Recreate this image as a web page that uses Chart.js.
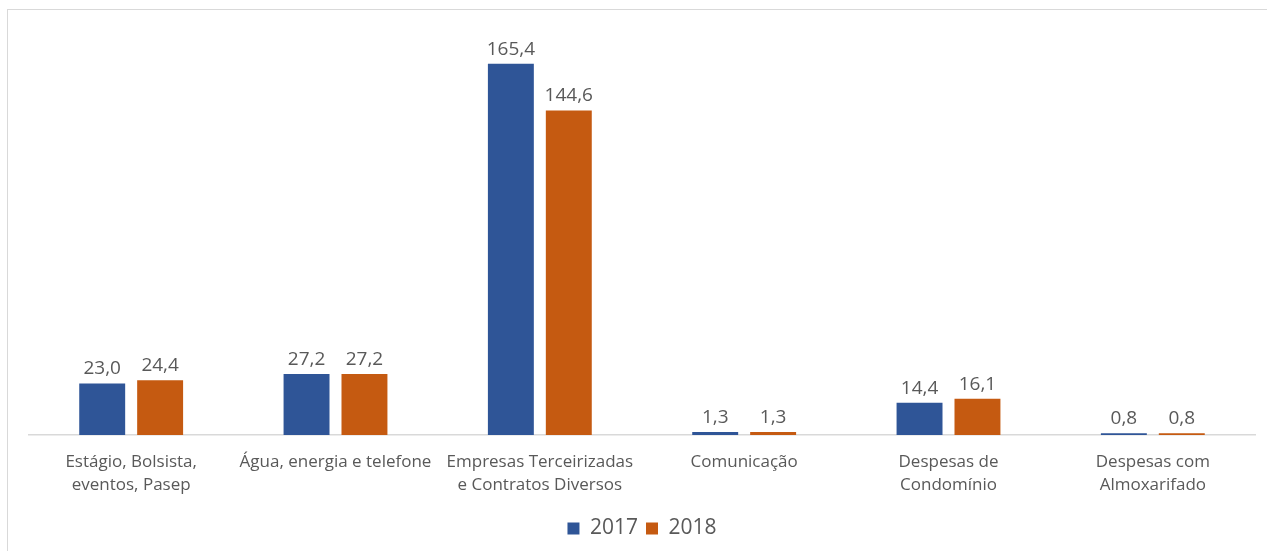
<!DOCTYPE html>
<html>
<head>
<meta charset="utf-8">
<script src="https://cdn.jsdelivr.net/npm/chart.js@4"></script>
<style>
  html, body { margin: 0; padding: 0; background: #fff; }
  #wrap { position: relative; width: 1267px; height: 551px; }
  #frame { position: absolute; left: 7px; top: 9px; width: 1300px; height: 600px;
           border-left: 1px solid #d9d9d9; border-top: 1px solid #d9d9d9; }
  canvas { position: absolute; left: 0; top: 0; }
</style>
</head>
<body>
<div id="wrap">
  <div id="frame"></div>
  <canvas id="c" width="1267" height="551"></canvas>
</div>
<script>
/* ---- Data ---- */
const categories = [
  ["Estágio, Bolsista,", "eventos, Pasep"],
  "Água, energia e telefone",
  ["Empresas Terceirizadas", "e Contratos Diversos"],
  "Comunicação",
  ["Despesas de", "Condomínio"],
  ["Despesas com", "Almoxarifado"],
];
const values2017 = [23.0, 27.2, 165.4, 1.3, 14.4, 0.8];
const values2018 = [24.4, 27.2, 144.6, 1.3, 16.1, 0.8];

const COLORS = { y2017: "#2F5597", y2018: "#C55A11", text: "#595959", axis: "#d9d9d9" };
const FONT = "'Open Sans', 'Noto Sans', sans-serif";

const fmt = (v) => v.toFixed(1).replace(".", ",");

// draw value labels above each bar
const valueLabels = {
  id: "valueLabels",
  afterDatasetsDraw(chart) {
    const ctx = chart.ctx;
    ctx.save();
    ctx.font = `19px ${FONT}`;
    ctx.fillStyle = COLORS.text;
    ctx.textAlign = "center";
    ctx.textBaseline = "bottom";
    chart.data.datasets.forEach((ds, i) => {
      chart.getDatasetMeta(i).data.forEach((bar, j) => {
        ctx.fillText(fmt(ds.data[j]), bar.x, bar.y - 5);
      });
    });
    ctx.restore();
  },
};

new Chart(document.getElementById("c"), {
  type: "bar",
  data: {
    labels: categories,
    datasets: [
      { label: "2017", data: values2017, backgroundColor: COLORS.y2017 },
      { label: "2018", data: values2018, backgroundColor: COLORS.y2018 },
    ],
  },
  options: {
    responsive: false,
    animation: false,
    categoryPercentage: 0.567,
    barPercentage: 0.793,
    layout: { padding: { left: 29, right: 12, top: 31, bottom: 2 } },
    scales: {
      x: {
        grid: { display: false, drawTicks: false },
        border: { color: COLORS.axis, width: 1.5 },
        ticks: { color: COLORS.text, font: { family: FONT, size: 17, lineHeight: 1.35 }, padding: 16, maxRotation: 0, autoSkip: false },
        afterFit: (s) => { s.height = 75; },
      },
      y: { display: false, min: 0, max: 180 },
    },
    plugins: {
      legend: {
        position: "bottom",
        labels: { color: COLORS.text, font: { family: FONT, size: 21 }, boxWidth: 12, boxHeight: 12, padding: 8 },
      },
      tooltip: { enabled: false },
    },
  },
  plugins: [valueLabels],
});
</script>
</body>
</html>
